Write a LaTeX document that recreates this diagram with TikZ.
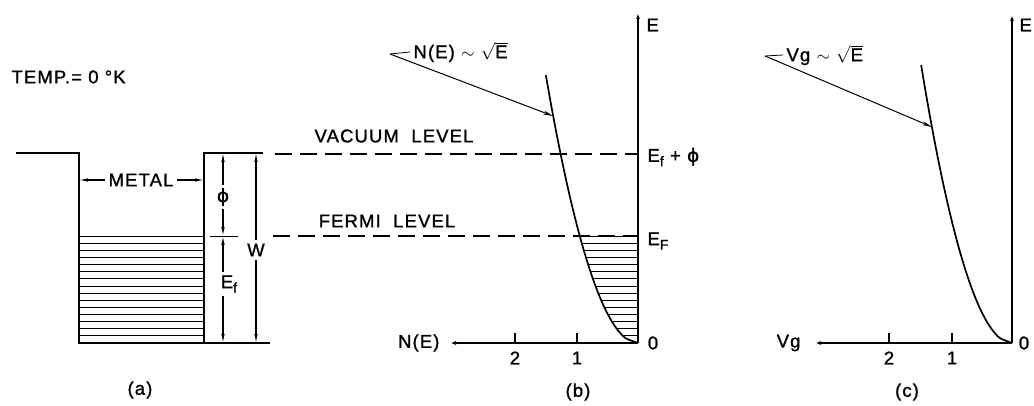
\documentclass[tikz,border=0pt]{standalone}
\usepackage{fontspec}
\setmainfont[LetterSpace=6,FakeBold=1.2]{Liberation Sans}
\newfontfamily\phifont[FakeBold=1.2]{DejaVu Sans}
\usetikzlibrary{arrows.meta,calc}
\newcommand{\lsub}[1]{\raisebox{-0.45ex}{\fontsize{14}{14}\selectfont #1}}
\newcommand{\lphi}{{\phifont ϕ}}

\begin{document}
\begin{tikzpicture}[x=1pt,y=-1pt,>={Latex[length=9pt,width=3.5pt]},
  font=\fontsize{18.5}{20}\selectfont,
  wall/.style={line width=1.7pt},
  lvl/.style={line width=1.1pt,dash pattern=on 17pt off 8pt},
  hatch/.style={line width=0.8pt},
  axis/.style={line width=1.7pt,->},
  dim/.style={line width=1.1pt,->},
  note/.style={line width=1pt,-{Stealth[length=10pt,width=4pt]}}]
  \useasboundingbox (0,0) rectangle (1034,406);
  % (a) the metal as a potential well
  \coordinate (tl) at (16,153);
  \coordinate (wl) at (79,153);
  \coordinate (bl) at (79,343);
  \coordinate (br) at (204,343);
  \coordinate (wr) at (204,153);
  \coordinate (tr) at (263,153);
  \coordinate (be) at (270,343);
  \coordinate (ax) at (223,0);
  \draw[wall] (tl) -- (wl) -- (bl) -- (br) -- (wr) -- (tr);
  \draw[wall] (br) -- (be);
  \foreach \i in {0,...,15} \draw[hatch] (79,236+\i*7.13) -- (204,236+\i*7.13);
  \coordinate (ft) at (210,236);
  \coordinate (fe) at (238,236);
  \draw[hatch] (ft) -- (fe);
  \node[anchor=west] (temp) at (8,77) {TEMP.= 0 °K};
  \node (metal) at (141,180) {METAL};
  \draw[dim] (metal.west) -- (metal.west -| bl);
  \draw[dim] (metal.east) -- (metal.east -| br);
  \node (phi) at (223,197) {\lphi};
  \draw[dim] (phi.north) -- (phi |- tr);
  \draw[dim] (phi.south) -- (phi |- ft);
  \node (ef) at (229,284) {E\lsub{f}};
  \draw[dim] (ef.north -| ax) -- (ax |- ft);
  \draw[dim] (ef.south -| ax) -- (ax |- be);
  \node (w) at (256,250) {W};
  \draw[dim] (w.north) -- (w |- tr);
  \draw[dim] (w.south) -- (w |- be);
  \node (la) at (140,390) {(a)};
  % levels
  \coordinate (ob) at (638,343);
  \coordinate (eb) at (638,10);
  \coordinate (nb) at (447,343);
  \coordinate (vac) at (275,154);
  \coordinate (fer) at (273,236);
  \draw[lvl] (vac) -- (vac -| ob);
  \draw[lvl] (fer) -- (fer -| ob);
  \node (vlab) at (394,136) {VACUUM\ \ LEVEL};
  \node (flab) at (387,221) {FERMI\ \ LEVEL};
  % (b) density of states
  \draw[axis] (ob) -- (eb);
  \draw[axis] (ob) -- (nb);
  \node[anchor=west] (lEb) at (643,25) {E};
  \node[anchor=west] (lvac) at (644,157) {E\lsub{f} + \lphi};
  \node[anchor=west] (lfer) at (644,241) {E\lsub{F}};
  \node (ob0) at (653,343) {0};
  \node[anchor=east] (lnb) at (443,343) {N(E)};
  \foreach \n/\x in {1/577,2/515} {
    \draw[wall] (\x,333) -- (\x,343);
    \node (tb\n) at (\x,358) {\n};
  }
  \draw[wall] plot[domain=0:268,samples=60,smooth] ({638-5.63*sqrt(\x)},{343-\x});
  \foreach \i in {0,...,14} {
    \pgfmathsetmacro\d{107-\i*7.13}
    \draw[hatch] ({638-5.63*sqrt(\d)},{343-\d}) -- (638,{343-\d});
  }
  \coordinate (nt) at (390,54);
  \coordinate (nh) at (553,116);
  \node[anchor=west] (nlab) at (410,52) {N(E) $\sim$ $\sqrt{\mbox{E}}$};
  \draw[thick] (nt) -- (nlab.west);
  \draw[note] (nt) -- (nh);
  \node (lb) at (578,392) {(b)};
  % (c) group velocity
  \coordinate (oc) at (1012,343);
  \coordinate (ec) at (1012,12);
  \coordinate (vc) at (812,343);
  \draw[axis] (oc) -- (ec);
  \draw[axis] (oc) -- (vc);
  \node[anchor=west] (lEc) at (1016,25) {E};
  \node (oc0) at (1024,343) {0};
  \node[anchor=east] (lvc) at (804,343) {Vg};
  \foreach \n/\x in {1/952,2/889} {
    \draw[wall] (\x,333) -- (\x,343);
    \node (tc\n) at (\x,358) {\n};
  }
  \draw[wall] plot[domain=0:278,samples=60,smooth] ({1012-5.45*sqrt(\x)},{343-\x});
  \coordinate (vt) at (765,56);
  \coordinate (vh) at (932,127);
  \node[anchor=west] (vlabel) at (783,55) {Vg $\sim$ $\sqrt{\mbox{E}}$};
  \draw[thick] (vt) -- (vlabel.west);
  \draw[note] (vt) -- (vh);
  \node (lc) at (907,392) {(c)};
\end{tikzpicture}
\end{document}
